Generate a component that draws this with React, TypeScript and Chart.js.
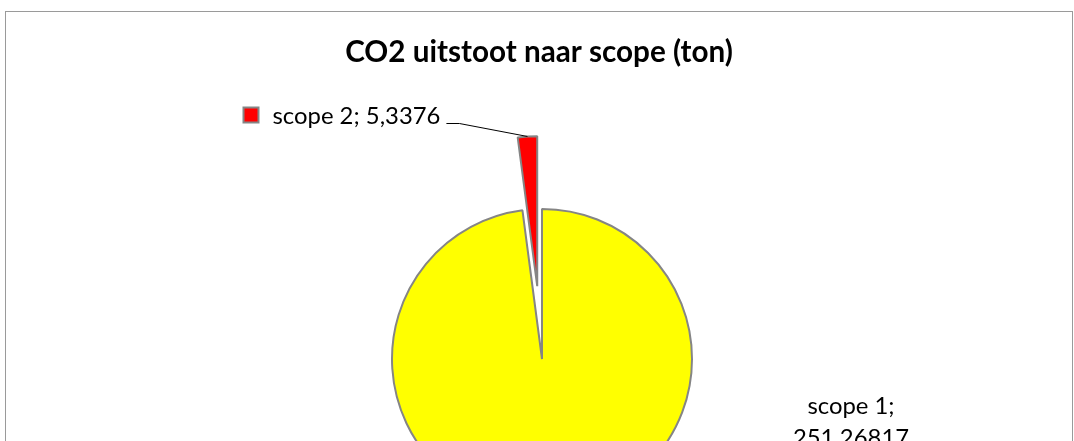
import React, { useEffect, useRef } from "react";
import { Chart, registerables } from "chart.js";

Chart.register(...registerables);

const chartTitle = "CO2 uitstoot naar scope (ton)";
const categories = ["scope 1", "scope 2"];
const values = [251.26817, 5.3376];
const sliceColors = ["#FFFF00", "#FF0000"];
const explodePx = [0, 73];

const FONT = "Lato, 'Open Sans', sans-serif";

const fmt = (v: number) => String(v).replace(".", ",");

function fitSize(ctx: CanvasRenderingContext2D, text: string, weight: string, target: number) {
  ctx.font = `${weight} 100px ${FONT}`;
  const w = ctx.measureText(text).width;
  return (100 * target) / w;
}

// Excel-style explosion: move whole slice outward along its bisector, keeping its radius
const explodePlugin = {
  id: "explode",
  afterDatasetsUpdate(chart: any) {
    const meta = chart.getDatasetMeta(0);
    meta.data.forEach((arc: any, i: number) => {
      const d = explodePx[i] || 0;
      if (!d) return;
      const half = (arc.startAngle + arc.endAngle) / 2;
      arc.x = arc.x + Math.cos(half) * d;
      arc.y = arc.y + Math.sin(half) * d;
    });
  },
};

const overlay = {
  id: "overlay",
  afterDraw(chart: any) {
    const ctx: CanvasRenderingContext2D = chart.ctx;
    ctx.save();

    // outer chart frame
    ctx.strokeStyle = "#9a9a9a";
    ctx.lineWidth = 1;
    ctx.strokeRect(5.5, 11.5, 1067, 1000);

    // title
    const ts = fitSize(ctx, chartTitle, "bold", 388);
    ctx.font = `bold ${ts}px ${FONT}`;
    ctx.fillStyle = "#000";
    ctx.textAlign = "center";
    ctx.textBaseline = "alphabetic";
    ctx.fillText(chartTitle, 539, 62);

    const meta = chart.getDatasetMeta(0);

    // scope 2 label (left, with marker and leader line)
    const lbl2 = `${categories[1]}; ${fmt(values[1])}`;
    const ls = fitSize(ctx, lbl2, "normal", 168);
    ctx.font = `normal ${ls}px ${FONT}`;
    ctx.textAlign = "left";
    const tx = 272.5;
    const ty = 124;
    ctx.fillText(lbl2, tx, ty);
    const tw = ctx.measureText(lbl2).width;

    // marker
    ctx.fillStyle = sliceColors[1];
    ctx.fillRect(243.5, 107.5, 15, 15);
    ctx.strokeStyle = "#858585";
    ctx.lineWidth = 2;
    ctx.strokeRect(243.5, 107.5, 15, 15);

    // leader line to the red slice
    const arc = meta.data[1];
    if (arc) {
      const half = (arc.startAngle + arc.endAngle) / 2;
      const ax = arc.x + Math.cos(half) * arc.outerRadius;
      const ay = arc.y + Math.sin(half) * arc.outerRadius;
      ctx.strokeStyle = "#000";
      ctx.lineWidth = 1;
      ctx.beginPath();
      ctx.moveTo(tx + tw + 6, 123.5);
      ctx.lineTo(tx + tw + 19, 123.5);
      ctx.lineTo(ax, ay);
      ctx.stroke();
    }

    // scope 1 label (right, two lines)
    ctx.fillStyle = "#000";
    ctx.font = `normal ${ls}px ${FONT}`;
    ctx.textAlign = "center";
    ctx.fillText(`${categories[0]};`, 851, 414);
    ctx.fillText(fmt(values[0]), 851, 446);

    ctx.restore();
  },
};

export default function App() {
  const ref = useRef<HTMLCanvasElement | null>(null);

  useEffect(() => {
    if (!ref.current) return;
    const chart = new Chart(ref.current, {
      type: "pie",
      data: {
        labels: categories,
        datasets: [
          {
            data: values,
            backgroundColor: sliceColors,
            borderColor: "#858585",
            borderWidth: 2,
            radius: 150,
            clip: false,
          } as any,
        ],
      },
      options: {
        responsive: true,
        maintainAspectRatio: false,
        animation: false,
        events: [],
        radius: 150,
        layout: { padding: { top: 277, left: 10, right: 0, bottom: 0 } },
        plugins: {
          legend: { display: false },
          title: { display: false },
          tooltip: { enabled: false },
        },
      } as any,
      plugins: [explodePlugin, overlay],
    });
    return () => chart.destroy();
  }, []);

  return (
    <div style={{ position: "absolute", left: 0, top: 0, width: 1074, height: 441, background: "#fff" }}>
      <canvas ref={ref} />
    </div>
  );
}
